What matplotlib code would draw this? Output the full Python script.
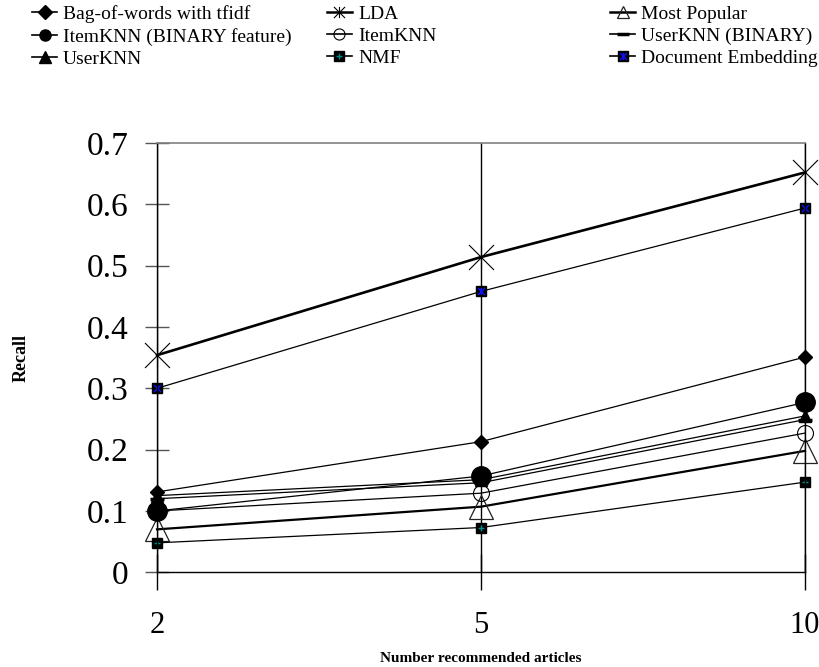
import matplotlib.pyplot as plt
from matplotlib.lines import Line2D
from matplotlib.path import Path
from matplotlib.legend_handler import HandlerTuple

plt.rcParams['font.family'] = ['Liberation Serif', 'DejaVu Serif']

n_articles = ["2", "5", "10"]

bow_tfidf = [0.131, 0.213, 0.351]
lda = [0.354, 0.514, 0.652]
most_popular = [0.070, 0.107, 0.198]
itemknn_binary = [0.100, 0.157, 0.277]
itemknn = [0.100, 0.129, 0.227]
userknn_binary = [0.120, 0.146, 0.249]
userknn = [0.125, 0.151, 0.255]
nmf = [0.048, 0.073, 0.147]
doc_embedding = [0.300, 0.458, 0.594]

y_ticks = [0, 0.1, 0.2, 0.3, 0.4, 0.5, 0.6, 0.7]

# asterisk as drawn by the original: an X with a vertical bar
STAR = Path([(-1, -1), (1, 1), (-1, 1), (1, -1), (0, -1), (0, 1)],
            [Path.MOVETO, Path.LINETO] * 3)

series = [
    ("Bag-of-words with tfidf", bow_tfidf,
     dict(marker="D", ms=7, mfc="black", mec="black", lw=0.9), None),
    ("LDA", lda,
     dict(marker=STAR, ms=18, mfc="none", mec="black", mew=0.8, lw=1.9), None),
    ("Most Popular", most_popular,
     dict(marker="^", ms=17, mfc="none", mec="#222222", mew=0.9, lw=1.6), None),
    ("ItemKNN (BINARY feature)", itemknn_binary,
     dict(marker="o", ms=14, mfc="black", mec="black", lw=0.9), None),
    ("ItemKNN", itemknn,
     dict(marker="o", ms=11.5, mfc="none", mec="black", mew=0.8, lw=0.9), None),
    ("UserKNN (BINARY)", userknn_binary,
     dict(marker="_", ms=10, mec="black", mew=2.5, lw=0.9), None),
    ("UserKNN", userknn,
     dict(marker="^", ms=9, mfc="black", mec="black", lw=0.9), None),
    ("NMF", nmf,
     dict(marker="s", ms=6.5, mfc="black", mec="black", lw=0.9),
     dict(marker="+", ms=5, mec="#008b8b", mew=1.0)),
    ("Document Embedding", doc_embedding,
     dict(marker="s", ms=7.2, mfc="black", mec="black", lw=0.9),
     dict(marker=STAR, ms=5, mec="#1010ff", mew=1.0)),
]

fig = plt.figure(figsize=(8.19, 6.67), dpi=100)
ax = fig.add_axes((0.1917, 0.142, 0.7912, 0.6436))

handles = {}
for label, values, style, overlay in series:
    ax.plot(n_articles, values, color="black", clip_on=False, **style)
    h_style = dict(style)
    h_style["ms"] = min(style["ms"], 8)
    h_style["lw"] = 1.2 if style["lw"] < 1.5 else 1.8
    h = Line2D([], [], color="black", **h_style)
    if overlay is not None:
        ax.plot(n_articles, values, linestyle="none", clip_on=False, **overlay)
        o_style = dict(overlay)
        o_style["ms"] = min(overlay["ms"], 5)
        h = (h, Line2D([], [], linestyle="none", **o_style))
    handles[label] = h

ax.set_xlim(0, 2)
ax.set_ylim(0, 0.7)
ax.set_yticks(y_ticks)
ax.set_yticklabels([f"{t:g}" for t in y_ticks])

ax.xaxis.grid(True, color="black", linewidth=1.0)
ax.set_axisbelow(True)
for side in ("left", "bottom", "right"):
    ax.spines[side].set_color("black")
    ax.spines[side].set_linewidth(1.0)
ax.spines["top"].set_color("#808080")
ax.spines["top"].set_linewidth(1.2)

ax.tick_params(axis="y", direction="inout", length=17, width=1.0,
               color="#555555", labelsize=24, pad=12)
ax.tick_params(axis="x", direction="inout", length=26, width=1.0,
               color="black", labelsize=22, pad=15)

ax.set_ylabel("Recall", fontsize=13, fontweight="bold")
ax.yaxis.set_label_coords(-0.197, 0.5)
ax.set_xlabel("Number recommended articles", fontsize=11, fontweight="bold")
ax.xaxis.set_label_coords(0.5, -0.185)

columns = [
    (0.039, ["Bag-of-words with tfidf", "ItemKNN (BINARY feature)", "UserKNN"]),
    (0.399, ["LDA", "ItemKNN", "NMF"]),
    (0.745, ["Most Popular", "UserKNN (BINARY)", "Document Embedding"]),
]
for x_pos, labels in columns:
    fig.legend([handles[l] for l in labels], labels,
               loc="upper left", bbox_to_anchor=(x_pos, 0.992),
               frameon=False, fontsize=14, borderpad=0, borderaxespad=0,
               handlelength=1.3, handletextpad=0.3, labelspacing=0.23,
               handler_map={tuple: HandlerTuple(ndivide=1, pad=0)})

fig.savefig("out.png", dpi=100)
plt.close(fig)
